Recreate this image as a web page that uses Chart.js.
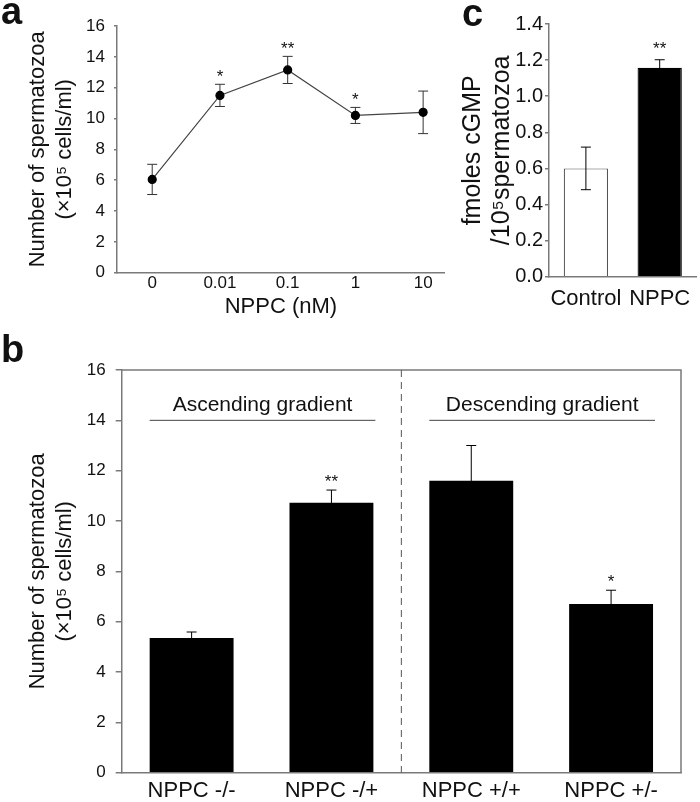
<!DOCTYPE html>
<html>
<head>
<meta charset="utf-8">
<script src="https://cdn.jsdelivr.net/npm/chart.js@4.4.1/dist/chart.umd.min.js"></script>
<style>
  body { margin: 0; background: #fff; }
  #wrap { position: relative; width: 700px; height: 802px; }
  canvas { position: absolute; }
</style>
</head>
<body>
<div id="wrap">
  <canvas id="chart-a" width="450" height="320" style="left:0;top:0"></canvas>
  <canvas id="chart-c" width="250" height="320" style="left:450px;top:0"></canvas>
  <canvas id="chart-b" width="700" height="482" style="left:0;top:320px"></canvas>
</div>
<script>
// panel a - dose response
const doseLabels = ['0', '0.01', '0.1', '1', '10'];
const doseMeans = [6.05, 11.5, 13.15, 10.2, 10.4];
const doseErrors = [0.98, 0.72, 0.88, 0.52, 1.38];
const doseMarks = ['', '*', '**', '*', ''];
const countTicks = [0, 2, 4, 6, 8, 10, 12, 14, 16];

// panel c - cGMP
const cgmpLabels = ['Control', 'NPPC'];
const cgmpMeans = [0.60, 1.157];
const cgmpErrors = [0.118, 0.045];
const cgmpMarks = ['', '**'];
const cgmpTicks = [0, 0.2, 0.4, 0.6, 0.8, 1.0, 1.2, 1.4];

// panel b - gradients
const gradLabels = ['NPPC -/-', 'NPPC -/+', 'NPPC +/+', 'NPPC +/-'];
const gradMeans = [5.35, 10.73, 11.6, 6.7];
const gradErrors = [0.24, 0.5, 1.4, 0.55];
const gradMarks = ['', '**', '', '*'];
const groupTitles = ['Ascending gradient', 'Descending gradient'];
const groupMembers = [[0, 1], [2, 3]];

const FONT = '"Liberation Sans", Arial, sans-serif';
const axisGray = '#7a7a7a';
Chart.defaults.font.family = FONT;
Chart.defaults.color = '#111';

function overlay(o) {
    function bars(chart) {
        const ctx = chart.ctx;
        const y = chart.scales.y;
        const meta = chart.getDatasetMeta(0);
        ctx.save();
        ctx.strokeStyle = o.errColor;
        ctx.lineWidth = 1;
        meta.data.forEach(function (el, i) {
            const top = y.getPixelForValue(o.means[i] + o.errors[i]);
            const bot = y.getPixelForValue(o.means[i] - o.errors[i]);
            ctx.beginPath();
            ctx.moveTo(el.x, top); ctx.lineTo(el.x, bot);
            ctx.moveTo(el.x - 5, top); ctx.lineTo(el.x + 5, top);
            ctx.moveTo(el.x - 5, bot); ctx.lineTo(el.x + 5, bot);
            ctx.stroke();
        });
        ctx.restore();
    }
    return {
        id: 'overlay',
        beforeDatasetsDraw: function (chart) {
            if (o.below) bars(chart);
        },
        afterDatasetsDraw: function (chart) {
            if (!o.below) bars(chart);
            const ctx = chart.ctx;
            const y = chart.scales.y;
            const meta = chart.getDatasetMeta(0);
            ctx.save();
            ctx.fillStyle = '#111';
            ctx.font = '17px ' + FONT;
            ctx.textAlign = 'center';
            ctx.textBaseline = 'alphabetic';
            meta.data.forEach(function (el, i) {
                if (!o.marks[i]) return;
                const top = y.getPixelForValue(o.means[i] + o.errors[i]);
                ctx.fillText(o.marks[i], el.x, top - o.markGap);
            });
            // panel letter
            ctx.font = 'bold 38px ' + FONT;
            ctx.textAlign = 'left';
            ctx.fillText(o.letter, o.letterX, o.letterY);
            if (o.extra) o.extra(chart);
            ctx.restore();
        }
    };
}

function yAxis(ticks, width, tickLen, pad, tickSize, title, titleSize, titlePad, lh, fmt) {
    return {
        min: ticks[0],
        max: ticks[ticks.length - 1],
        afterFit: function (s) { s.width = width; },
        grid: { display: true, drawOnChartArea: false, drawTicks: true, tickLength: tickLen, color: axisGray, lineWidth: 1.5 },
        border: { color: axisGray, width: 1.5 },
        ticks: { stepSize: ticks[1] - ticks[0], padding: pad, font: { size: tickSize }, color: '#111', callback: fmt },
        title: { display: true, text: title, font: { size: titleSize, lineHeight: lh }, padding: { top: titlePad, bottom: 0 }, color: '#111' }
    };
}

function xCategory(height, pad, size) {
    return {
        afterFit: function (s) { s.height = height; },
        grid: { display: false, drawTicks: false },
        border: { color: axisGray, width: 1.5 },
        ticks: { padding: pad, font: { size: size }, color: '#111', autoSkip: false, maxRotation: 0, minRotation: 0 }
    };
}

// ---------- a ----------
new Chart(document.getElementById('chart-a'), {
    type: 'line',
    data: {
        datasets: [{
            data: doseMeans.map(function (v, i) { return { x: i, y: v }; }),
            borderColor: '#444',
            borderWidth: 1.2,
            pointRadius: 4,
            pointBackgroundColor: '#000',
            pointBorderColor: '#000',
            tension: 0
        }]
    },
    options: {
        responsive: false,
        animation: false,
        layout: { padding: { left: 0, top: 26, right: 5, bottom: 0 } },
        plugins: { legend: { display: false }, tooltip: { enabled: false } },
        scales: {
            x: {
                type: 'linear', min: -0.52, max: 4.32,
                afterFit: function (s) { s.height = 47.3; },
                grid: { display: false, drawTicks: false },
                border: { color: axisGray, width: 1.5 },
                ticks: { stepSize: 1, includeBounds: false, autoSkip: false, maxRotation: 0, padding: 0, font: { size: 17 }, color: '#111',
                         callback: function (v) { return doseLabels[v] !== undefined ? doseLabels[v] : ''; } },
                title: { display: true, text: 'NPPC (nM)', font: { size: 22 }, padding: { top: 0, bottom: 0 }, color: '#111' }
            },
            y: yAxis(countTicks, 117, 3, 9, 17, ['Number of spermatozoa', '(\u00d710\u2075 cells/ml)'], 22, 25, 1.2)
        }
    },
    plugins: [overlay({ means: doseMeans, errors: doseErrors, marks: doseMarks, markGap: 2, below: true, errColor: '#333',
                        letter: 'a', letterX: 1, letterY: 24 })]
});

// ---------- c ----------
new Chart(document.getElementById('chart-c'), {
    type: 'bar',
    data: {
        labels: cgmpLabels,
        datasets: [{
            data: cgmpMeans,
            backgroundColor: ['#fff', '#000'],
            borderColor: ['#555', '#000'],
            borderWidth: 1.2,
            barPercentage: 0.6,
            categoryPercentage: 1
        }]
    },
    options: {
        responsive: false,
        animation: false,
        layout: { padding: { left: 0, top: 24, right: 3, bottom: 0 } },
        plugins: { legend: { display: false }, tooltip: { enabled: false } },
        scales: {
            x: xCategory(43.3, 9, 22),
            y: yAxis(cgmpTicks, 99, 4, 2, 20, ['fmoles cGMP', '/10\u2075spermatozoa'], 25, 9, 1.15,
                function (v) { return v.toFixed(1); })
        }
    },
    plugins: [overlay({ means: cgmpMeans, errors: cgmpErrors, marks: cgmpMarks, markGap: 6, errColor: '#000',
                        letter: 'c', letterX: 12, letterY: 26 })]
});

// ---------- b ----------
function gradientDecor(chart) {
    const ctx = chart.ctx;
    const x = chart.scales.x;
    const y = chart.scales.y;
    const area = chart.chartArea;
    const meta = chart.getDatasetMeta(0);
    // frame top and right
    ctx.strokeStyle = axisGray;
    ctx.lineWidth = 1.5;
    ctx.beginPath();
    ctx.moveTo(area.left, area.top); ctx.lineTo(area.right, area.top); ctx.lineTo(area.right, area.bottom);
    ctx.stroke();
    // dashed separator
    const sx = x.getPixelForValue(1.5);
    ctx.strokeStyle = '#555';
    ctx.lineWidth = 1;
    ctx.setLineDash([7, 5]);
    ctx.beginPath();
    ctx.moveTo(sx, area.top); ctx.lineTo(sx, area.bottom);
    ctx.stroke();
    ctx.setLineDash([]);
    // group headings
    const ly = y.getPixelForValue(14);
    ctx.fillStyle = '#111';
    ctx.font = '21px ' + FONT;
    ctx.textAlign = 'center';
    groupMembers.forEach(function (g, k) {
        const a = meta.data[g[0]], b = meta.data[g[g.length - 1]];
        const x0 = a.x - a.width / 2, x1 = b.x + b.width / 2 + 2;
        ctx.strokeStyle = '#444';
        ctx.beginPath();
        ctx.moveTo(x0, ly); ctx.lineTo(x1, ly);
        ctx.stroke();
        ctx.fillText(groupTitles[k], (x0 + x1) / 2, ly - 9);
    });
}

new Chart(document.getElementById('chart-b'), {
    type: 'bar',
    data: {
        labels: gradLabels,
        datasets: [{
            data: gradMeans,
            backgroundColor: '#000',
            borderColor: '#000',
            borderWidth: 0,
            barPercentage: 0.6,
            categoryPercentage: 1
        }]
    },
    options: {
        responsive: false,
        animation: false,
        layout: { padding: { left: 0, top: 50, right: 19, bottom: 0 } },
        plugins: { legend: { display: false }, tooltip: { enabled: false } },
        scales: {
            x: xCategory(29.3, 5, 22),
            y: yAxis(countTicks, 121.7, 6, 10, 17, ['Number of spermatozoa', '(\u00d710\u2075 cells/ml)'], 22, 25, 1.2)
        }
    },
    plugins: [overlay({ means: gradMeans, errors: gradErrors, marks: gradMarks, markGap: 3, errColor: '#000',
                        letter: 'b', letterX: 1, letterY: 42, extra: gradientDecor })]
});
</script>
</body>
</html>
